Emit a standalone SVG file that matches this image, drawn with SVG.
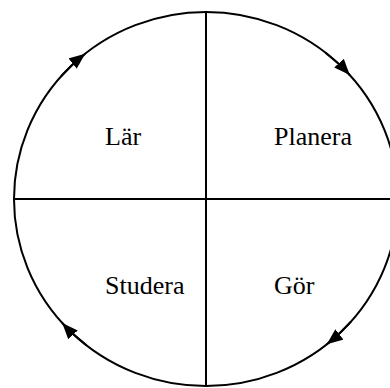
<svg xmlns="http://www.w3.org/2000/svg" width="390" height="388" viewBox="0 0 390 388">
<defs>
<style>
.ln{fill:none;stroke:#000;stroke-width:2}
.lbl{font-family:"Liberation Serif","Times New Roman",serif;font-size:26px;fill:#000}
</style>
<marker id="ah" markerUnits="userSpaceOnUse" markerWidth="17" markerHeight="14" refX="16" refY="7" orient="auto">
<path d="M0,0.5 L16,7 L0,13.5 z" fill="#000"/>
</marker>
</defs>
<rect width="390" height="388" fill="#fff"/>
<g id="connectors">
<ellipse class="ln" cx="206" cy="199" rx="192" ry="187"/>
<line class="ln" x1="206" y1="12" x2="206" y2="386"/>
<line class="ln" x1="14" y1="199" x2="398" y2="199"/>
<path class="ln" d="M61.1,76.3 A192,187 0 0 1 85.2,53.7" marker-end="url(#ah)"/>
<path class="ln" d="M325.5,52.7 A192,187 0 0 1 349.8,75" marker-end="url(#ah)"/>
<path class="ln" d="M350.9,321.7 A192,187 0 0 1 326.8,344.3" marker-end="url(#ah)"/>
<path class="ln" d="M86.5,345.3 A192,187 0 0 1 62.2,323" marker-end="url(#ah)"/>
</g>
<g id="lar"><text class="lbl" x="105" y="145">Lär</text></g>
<g id="planera"><text class="lbl" x="274" y="145">Planera</text></g>
<g id="studera"><text class="lbl" x="105" y="294">Studera</text></g>
<g id="gor"><text class="lbl" x="274" y="294">Gör</text></g>
</svg>
